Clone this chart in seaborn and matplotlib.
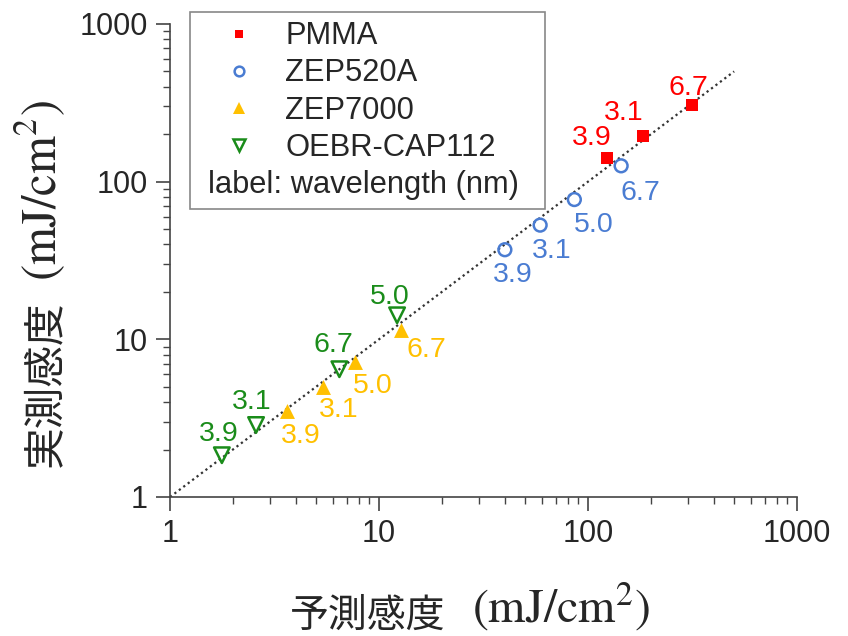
import numpy as np
import pandas as pd
import matplotlib
matplotlib.use('Agg')
import matplotlib.pyplot as plt
from matplotlib.lines import Line2D
from matplotlib.offsetbox import DrawingArea
import seaborn as sns

sns.set_style('ticks')
plt.rcParams['font.family'] = ['Liberation Sans', 'Noto Sans CJK JP']
plt.rcParams['mathtext.fontset'] = 'stix'

# values (mJ/cm2), label = wavelength (nm)
MATERIALS = ['PMMA', 'ZEP520A', 'ZEP7000', 'OEBR-CAP112']
PMMA_PRED = [123, 184, 316]
PMMA_MEAS = [141, 195, 306]
PMMA_WL = ['3.9', '3.1', '6.7']
ZEP520A_PRED = [40, 59, 86, 144]
ZEP520A_MEAS = [37, 53, 77, 126]
ZEP520A_WL = ['3.9', '3.1', '5.0', '6.7']
ZEP7000_PRED = [3.64, 5.41, 7.68, 12.8]
ZEP7000_MEAS = [3.52, 4.99, 7.18, 11.5]
ZEP7000_WL = ['3.9', '3.1', '5.0', '6.7']
OEBR_PRED = [1.77, 2.58, 6.46, 12.2]
OEBR_MEAS = [1.84, 2.86, 6.46, 14.2]
OEBR_WL = ['3.9', '3.1', '6.7', '5.0']
LINE_X = [1, 500]

COLORS = {'PMMA': '#ff0000', 'ZEP520A': '#4a7cd2', 'ZEP7000': '#ffc000', 'OEBR-CAP112': '#1a8c1a'}
# marker, filled, size in plot, size in legend
MARKERS = {'PMMA': ('s', True, 75, 6), 'ZEP520A': ('o', False, 85, 7),
           'ZEP7000': ('^', True, 115, 8), 'OEBR-CAP112': ('v', False, 125, 8)}
# label offsets in points for each point
OFFSETS = {
    'PMMA': [(-11, 14.5), (-14, 16.5), (-3, 12.5)],
    'ZEP520A': [(6, -18.5), (8, -18.5), (14, -18.5), (14, -19.5)],
    'ZEP7000': [(10, -18.5), (11, -16.5), (13, -17.5), (18, -14.5)],
    'OEBR-CAP112': [(-2, 15.5), (-3, 16.5), (-4, 17.5), (-5, 13.5)],
}

df = pd.concat([
    pd.DataFrame({'pred': PMMA_PRED, 'meas': PMMA_MEAS, 'wl': PMMA_WL, 'mat': 'PMMA'}),
    pd.DataFrame({'pred': ZEP520A_PRED, 'meas': ZEP520A_MEAS, 'wl': ZEP520A_WL, 'mat': 'ZEP520A'}),
    pd.DataFrame({'pred': ZEP7000_PRED, 'meas': ZEP7000_MEAS, 'wl': ZEP7000_WL, 'mat': 'ZEP7000'}),
    pd.DataFrame({'pred': OEBR_PRED, 'meas': OEBR_MEAS, 'wl': OEBR_WL, 'mat': 'OEBR-CAP112'}),
], ignore_index=True)

fig = plt.figure(figsize=(8.48, 6.36), dpi=100)
ax = fig.add_axes([0.2005, 0.2186, 0.7394, 0.7437])

sns.lineplot(x=LINE_X, y=LINE_X, color='#333333', linestyle=(0, (1, 1.5)), linewidth=1.6, ax=ax)

handles = []
for mat in MATERIALS:
    sub = df[df['mat'] == mat]
    c = COLORS[mat]
    mk, filled, s, ms = MARKERS[mat]
    sns.scatterplot(x='pred', y='meas', data=sub, marker=mk, s=s, color=c,
                    linewidth=1.8 if not filled else 0, ax=ax, zorder=3)
    coll = ax.collections[-1]
    if not filled:
        coll.set_facecolor('none')
        coll.set_edgecolor(c)
    for (x, y, wl), off in zip(sub[['pred', 'meas', 'wl']].values, OFFSETS[mat]):
        ax.annotate(wl, (x, y), xytext=off, textcoords='offset points',
                    ha='center', va='center', color=c, fontsize=20.5)
    handles.append(Line2D([], [], linestyle='', marker=mk, markersize=ms,
                          markerfacecolor=c if filled else 'none', markeredgecolor=c,
                          markeredgewidth=0 if filled else 1.8, label=mat))
handles.append(Line2D([], [], linestyle='', label='label: wavelength (nm)'))

ax.set_xscale('log')
ax.set_yscale('log')
ax.set_xlim(1, 1000)
ax.set_ylim(1, 1000)
ax.set_xticks([1, 10, 100, 1000], ['1', '10', '100', '1000'])
ax.set_yticks([1, 10, 100, 1000], ['1', '10', '100', '1000'])
ax.tick_params(axis='both', which='major', direction='out', length=10, width=1.2,
               labelsize=22, color='#444444', pad=6)
ax.tick_params(axis='both', which='minor', direction='out', length=5, width=1, color='#444444')
for side in ['top', 'right']:
    ax.spines[side].set_visible(False)
for side in ['left', 'bottom']:
    ax.spines[side].set_color('#444444')
    ax.spines[side].set_linewidth(1.2)
ax.set_xlabel('')
ax.set_ylabel('')

leg = ax.legend(handles=handles, loc='upper left', bbox_to_anchor=(0.0319, 0.5, 0.566, 0.525),
                mode='expand', borderaxespad=0, fontsize=22.2, frameon=True, fancybox=False,
                framealpha=1, edgecolor='#888888', labelspacing=0.23, handlelength=2.55,
                handletextpad=0.24, borderpad=0.3)
leg.get_frame().set_linewidth(1.2)
# last row is only a note: swap its handle for a tiny spacer so the text starts at the left
last_row = leg._legend_handle_box.get_children()[0].get_children()[-1]
last_row.get_children()[0] = DrawingArea(0.7, 1)

# axis titles: Japanese part and serif unit part
fig.text(290 / 848, 0.0142, '予測感度', fontsize=28, family='Noto Sans CJK JP',
         ha='left', va='baseline')
fig.text(650 / 848, 0.021, r'$\mathrm{(mJ/cm^2)}$', fontsize=34.5, ha='right', va='baseline')
fig.text(57 / 848, 1 - 467 / 636, '実測感度', fontsize=30, family='Noto Sans CJK JP',
         rotation=90, rotation_mode='anchor', ha='left', va='baseline')
fig.text(56 / 848, 1 - 100 / 636, r'$\mathrm{(mJ/cm^2)}$', fontsize=35,
         rotation=90, rotation_mode='anchor', ha='right', va='baseline')

fig.savefig('out.png', dpi=100)
